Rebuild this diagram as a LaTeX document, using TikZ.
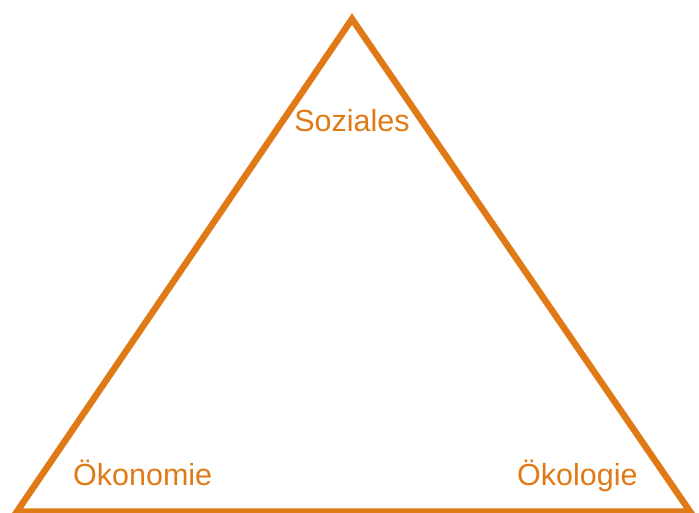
\documentclass[tikz,border=0pt]{standalone}
\usepackage{fontspec}
\setmainfont{Liberation Sans}
\definecolor{pyramidorange}{RGB}{224,122,22}
\begin{document}
\begin{tikzpicture}[x=1pt,y=1pt,every node/.style={font=\fontsize{30.5}{36}\selectfont,text=pyramidorange,inner sep=0pt}]
\useasboundingbox (0,0) rectangle (699,512);
% Nachhaltigkeitsdreieck
\coordinate (top) at (352,493);
\coordinate (left) at (17,0.5);
\coordinate (right) at (690,0.5);
\draw[pyramidorange,line width=6.5pt,line join=miter] (top) -- (right) -- (left) -- cycle;
\node[anchor=base] (soz) at (352,380) {Soziales};
\node[anchor=base west] (oek) at (73,27) {Ökonomie};
\node[anchor=base west] (oko) at (517,27) {Ökologie};
\end{tikzpicture}
\end{document}
